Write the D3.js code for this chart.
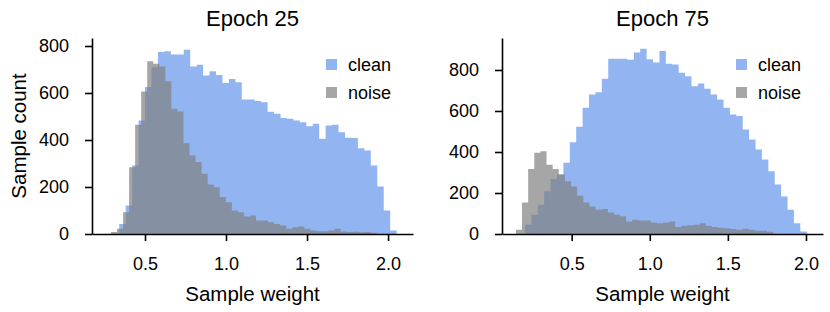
<!DOCTYPE html>
<html>
<head>
<meta charset="utf-8">
<script src="https://cdn.jsdelivr.net/npm/d3@7"></script>
<style>
  body { margin: 0; background: #fff; }
  svg { font-family: "Liberation Sans", Arial, sans-serif; }
</style>
</head>
<body>
<div class="chart"></div>
<script>
// DATA
// ----------------------------
const titles = ['Epoch 25', 'Epoch 75']
const seriesNames = ['clean', 'noise']
const xTicks = [0.5, 1.0, 1.5, 2.0]
const yTicks25 = [0, 200, 400, 600, 800]
const yTicks75 = [0, 200, 400, 600, 800]

// histogram ranges [first edge, last edge]
const clean25Range = [0.341, 2.053]
const noise25Range = [0.290, 1.931]
const clean75Range = [0.201, 2.005]
const noise75Range = [0.143, 1.790]

// counts per bin
const clean25 = [43, 121, 291, 483, 625, 710, 774, 778, 764, 764, 784, 713, 720, 674, 693,
  677, 643, 660, 646, 572, 572, 566, 561, 520, 512, 494, 490, 483, 476, 459, 469, 405,
  462, 465, 433, 410, 408, 365, 355, 291, 202, 100, 15]
const noise25 = [8, 22, 93, 284, 465, 606, 735, 724, 713, 650, 533, 521, 386, 334, 306,
  256, 211, 199, 157, 135, 100, 93, 74, 79, 57, 57, 50, 43, 36, 22, 29, 32, 22, 15, 12,
  12, 15, 22, 11, 8, 10, 7, 8, 5]
const clean75 = [45, 94, 143, 208, 268, 290, 347, 448, 523, 616, 681, 692, 757, 855, 855,
  855, 850, 885, 904, 852, 836, 892, 830, 827, 787, 770, 721, 734, 709, 681, 656, 616,
  583, 575, 510, 461, 412, 363, 306, 241, 183, 118, 53, 12]
const noise75 = [21, 154, 317, 396, 404, 338, 317, 290, 257, 232, 187, 154, 134, 118, 122,
  105, 94, 86, 61, 69, 66, 66, 56, 53, 56, 61, 34, 40, 43, 45, 53, 40, 34, 30, 28, 24,
  21, 26, 21, 16, 16, 11]

const colors = { clean: 'cornflowerblue', noise: 'gray' }

// SETUP
// ----------------------------
const fullWidth = 830
const fullHeight = 312

const svg = d3.select('.chart')
  .append('svg')
    .attr('width', fullWidth)
    .attr('height', fullHeight)

const panels = [
  { title: titles[0], left: 92, right: 413, xDomain: [0.173, 2.154], yMax: 834, yTicks: yTicks25,
    clean: clean25, cleanRange: clean25Range, noise: noise25, noiseRange: noise25Range, ylabel: true },
  { title: titles[1], left: 502, right: 823, xDomain: [0.054, 2.109], yMax: 956, yTicks: yTicks75,
    clean: clean75, cleanRange: clean75Range, noise: noise75, noiseRange: noise75Range, ylabel: false },
]
const plotTop = 38
const plotBottom = 234

// stepfilled histogram outline
function stepPath (counts, range, x, y) {
  const w = (range[1] - range[0]) / counts.length
  let p = `M${x(range[0])},${y(0)}`
  counts.forEach((c, i) => {
    p += `L${x(range[0] + i * w)},${y(c)}L${x(range[0] + (i + 1) * w)},${y(c)}`
  })
  return p + `L${x(range[1])},${y(0)}Z`
}

panels.forEach(pn => {
  const g = svg.append('g')

  const xScale = d3.scaleLinear().domain(pn.xDomain).range([pn.left, pn.right])
  const yScale = d3.scaleLinear().domain([0, pn.yMax]).range([plotBottom, plotTop])

  // HISTOGRAMS
  g.append('path')
    .attr('d', stepPath(pn.clean, pn.cleanRange, xScale, yScale))
    .style('fill', colors.clean)
    .style('fill-opacity', 0.7)
  g.append('path')
    .attr('d', stepPath(pn.noise, pn.noiseRange, xScale, yScale))
    .style('fill', colors.noise)
    .style('fill-opacity', 0.7)

  // AXES
  const xAxis = d3.axisBottom(xScale)
    .tickValues(xTicks)
    .tickFormat(d3.format('.1f'))
    .tickSize(7)
    .tickSizeOuter(0)
    .tickPadding(16)
  const gx = g.append('g')
    .attr('transform', `translate(0, ${plotBottom})`)
    .call(xAxis)

  const yAxis = d3.axisLeft(yScale)
    .tickValues(pn.yTicks)
    .tickSize(7)
    .tickSizeOuter(0)
    .tickPadding(16)
  const gy = g.append('g')
    .attr('transform', `translate(${pn.left}, 0)`)
    .call(yAxis)

  ;[gx, gy].forEach(a => {
    a.select('.domain').attr('stroke', '#000').attr('stroke-width', 1.6)
    a.selectAll('.tick line').attr('stroke', '#000').attr('stroke-width', 1.6)
    a.selectAll('.tick text')
      .attr('fill', '#000')
      .style('font-size', '18px')
      .style('font-family', '"Liberation Sans", Arial, sans-serif')
  })

  // TITLE + LABELS
  g.append('text')
    .attr('x', (pn.left + pn.right) / 2)
    .attr('y', 26)
    .attr('text-anchor', 'middle')
    .style('font-size', '22px')
    .text(pn.title)

  g.append('text')
    .attr('x', (pn.left + pn.right) / 2)
    .attr('y', 301)
    .attr('text-anchor', 'middle')
    .style('font-size', '20.5px')
    .text('Sample weight')

  if (pn.ylabel) {
    g.append('text')
      .attr('transform', `translate(26, ${(plotTop + plotBottom) / 2}) rotate(-90)`)
      .attr('text-anchor', 'middle')
      .style('font-size', '20.5px')
      .text('Sample count')
  }

  // LEGEND
  const lg = g.append('g')
    .attr('transform', `translate(${pn.right - 87}, 59)`)
  seriesNames.forEach((name, i) => {
    lg.append('rect')
      .attr('x', 0)
      .attr('y', i * 28)
      .attr('width', 11)
      .attr('height', 11)
      .style('fill', colors[name])
      .style('fill-opacity', 0.7)
    lg.append('text')
      .attr('x', 22)
      .attr('y', i * 28 + 12)
      .style('font-size', '18px')
      .text(name)
  })
})
</script>
</body>
</html>
